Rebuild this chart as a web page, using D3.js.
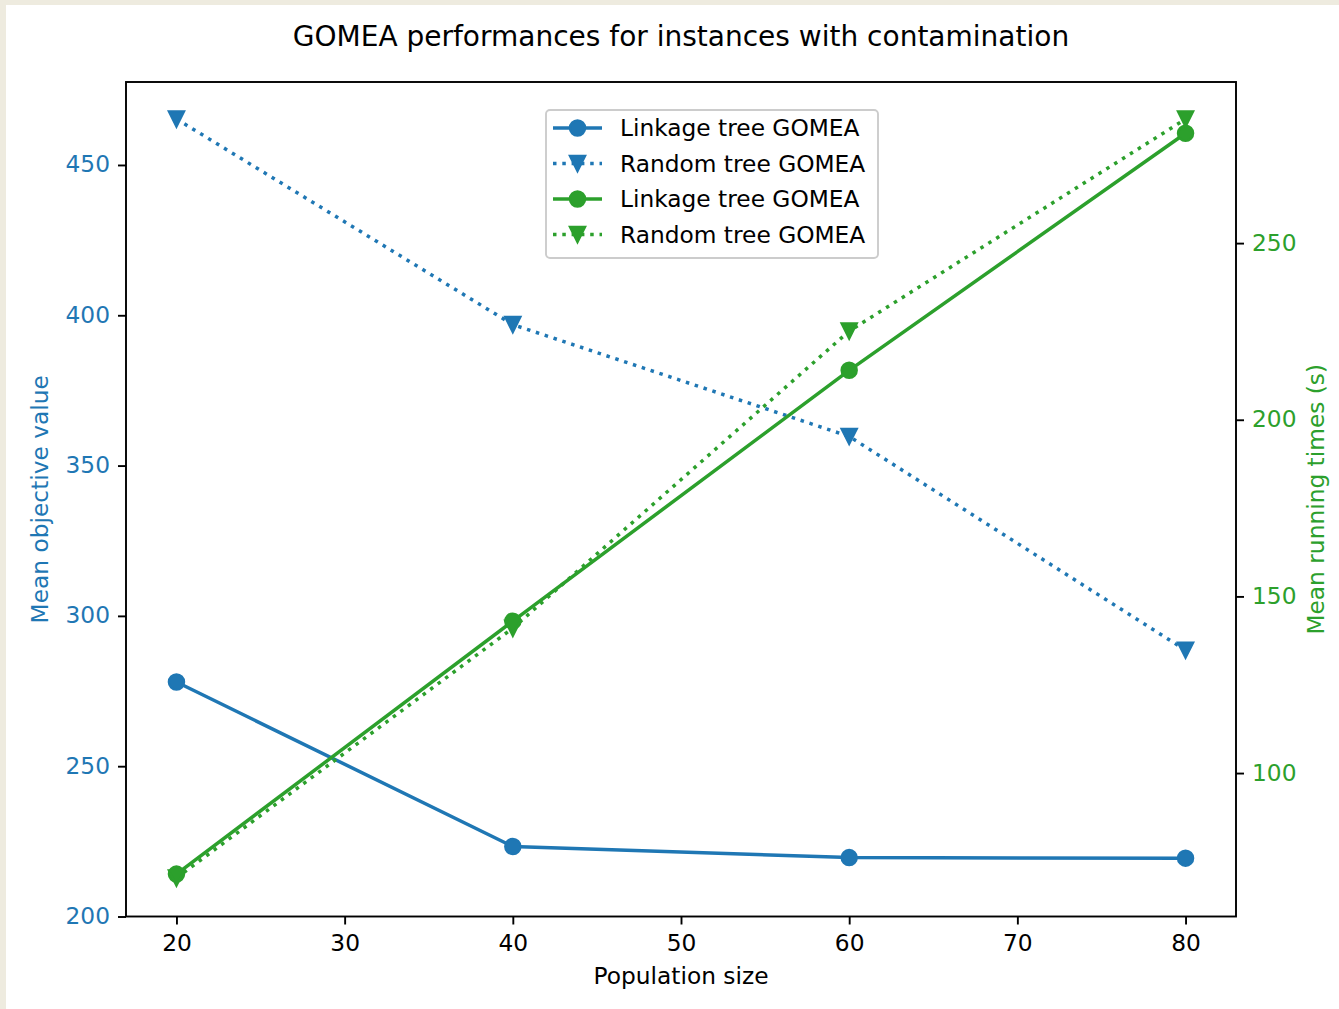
<!DOCTYPE html>
<html>
<head>
<meta charset="utf-8">
<script src="https://cdn.jsdelivr.net/npm/d3@7"></script>
<style>
  body { margin: 0; background: #fff; }
  text { font-family: "DejaVu Sans", sans-serif; }
</style>
</head>
<body>
<svg id="chart"></svg>
<script>
// data
var popSizes = [20, 40, 60, 80];
var linkageObjective = [278.0, 223.3, 219.6, 219.4];
var randomObjective = [465.3, 396.9, 359.7, 288.6];
var linkageTime = [71.4, 143.0, 214.0, 281.1];
var randomTime = [70.3, 141.0, 225.1, 285.1];
var xTicks = [20, 30, 40, 50, 60, 70, 80];
var leftTicks = [200, 250, 300, 350, 400, 450];
var rightTicks = [100, 150, 200, 250];
var legendLabels = ["Linkage tree GOMEA", "Random tree GOMEA", "Linkage tree GOMEA", "Random tree GOMEA"];

var blue = "#1f77b4", green = "#2ca02c";
var W = 1339, H = 1009;
// plot box edges
var box = {left: 126, right: 1236, top: 82, bottom: 916.5};

var svg = d3.select("#chart").attr("width", W).attr("height", H);

svg.append("rect").attr("width", W).attr("height", H).attr("fill", "#fff");
// beige page edge
svg.append("rect").attr("width", W).attr("height", 5).attr("fill", "#eeebdf");
svg.append("rect").attr("width", 6).attr("height", H).attr("fill", "#eeebdf");

var x = d3.scaleLinear().domain([17, 83]).range([box.left, box.right]);
var yL = d3.scaleLinear().domain([200, 477.6]).range([box.bottom, box.top]);
var yR = d3.scaleLinear().domain([59.4, 295.6]).range([box.bottom, box.top]);

var fs = 23.3;

// axes
var gx = svg.append("g").attr("transform", "translate(0," + box.bottom + ")")
    .call(d3.axisBottom(x).tickValues(xTicks).tickSize(8).tickPadding(10).tickFormat(d3.format("d")));
var gl = svg.append("g").attr("transform", "translate(" + box.left + ",0)")
    .call(d3.axisLeft(yL).tickValues(leftTicks).tickSize(8).tickPadding(8).tickFormat(d3.format("d")));
var gr = svg.append("g").attr("transform", "translate(" + box.right + ",0)")
    .call(d3.axisRight(yR).tickValues(rightTicks).tickSize(8).tickPadding(8).tickFormat(d3.format("d")));

[gx, gl, gr].forEach(function(g) {
  g.select(".domain").remove();
  g.selectAll(".tick line").attr("stroke", "#000").attr("stroke-width", 1.9);
  g.selectAll(".tick text").attr("font-size", fs).attr("font-family", "DejaVu Sans");
});
gx.selectAll(".tick text").attr("fill", "#000");
gl.selectAll(".tick text").attr("fill", blue).attr("dy", "0.30em");
gr.selectAll(".tick text").attr("fill", green).attr("dy", "0.30em");

// lines and markers
function series(vals, yScale, color, dotted, marker) {
  var pts = popSizes.map(function(p, i) { return [x(p), yScale(vals[i])]; });
  var line = svg.append("path")
    .attr("d", d3.line()(pts))
    .attr("fill", "none")
    .attr("stroke", color)
    .attr("stroke-width", 3.5);
  if (dotted) line.attr("stroke-dasharray", "3.5,5.8");
  pts.forEach(function(p) { drawMarker(svg, p[0], p[1], color, marker); });
}

function drawMarker(g, cx, cy, color, marker) {
  if (marker === "o") {
    g.append("circle").attr("cx", cx).attr("cy", cy).attr("r", 7.6)
      .attr("fill", color).attr("stroke", color).attr("stroke-width", 2.3);
  } else {
    var s = 7.6;
    g.append("path")
      .attr("d", "M" + (cx - s) + "," + (cy - s) + "L" + (cx + s) + "," + (cy - s) + "L" + cx + "," + (cy + s) + "Z")
      .attr("fill", color).attr("stroke", color).attr("stroke-width", 2.3).attr("stroke-linejoin", "miter");
  }
}

series(linkageObjective, yL, blue, false, "o");
series(randomObjective, yL, blue, true, "v");
series(linkageTime, yR, green, false, "o");
series(randomTime, yR, green, true, "v");

// frame
svg.append("rect").attr("x", box.left).attr("y", box.top)
  .attr("width", box.right - box.left).attr("height", box.bottom - box.top)
  .attr("fill", "none").attr("stroke", "#000").attr("stroke-width", 1.9);

// title and labels
svg.append("text").attr("x", (box.left + box.right) / 2).attr("y", 46)
  .attr("text-anchor", "middle").attr("font-size", 28).attr("fill", "#000")
  .text("GOMEA performances for instances with contamination");
svg.append("text").attr("x", (box.left + box.right) / 2).attr("y", 984)
  .attr("text-anchor", "middle").attr("font-size", fs).attr("fill", "#000")
  .text("Population size");
svg.append("text")
  .attr("transform", "translate(48," + (box.top + box.bottom) / 2 + ") rotate(-90)")
  .attr("text-anchor", "middle").attr("font-size", fs).attr("fill", blue)
  .text("Mean objective value");
svg.append("text")
  .attr("transform", "translate(1324," + (box.top + box.bottom) / 2 + ") rotate(-90)")
  .attr("text-anchor", "middle").attr("font-size", fs).attr("fill", green)
  .text("Mean running times (s)");

// legend
var legend = svg.append("g");
legend.append("rect").attr("x", 546).attr("y", 110).attr("width", 332).attr("height", 148)
  .attr("rx", 4).attr("fill", "#fff").attr("fill-opacity", 0.8)
  .attr("stroke", "#ccc").attr("stroke-width", 1.9);
var legendStyle = [[blue, false, "o"], [blue, true, "v"], [green, false, "o"], [green, true, "v"]];
legendLabels.forEach(function(lab, i) {
  var cy = 128 + i * 35.5;
  var st = legendStyle[i];
  var ln = legend.append("line").attr("x1", 553).attr("x2", 602).attr("y1", cy).attr("y2", cy)
    .attr("stroke", st[0]).attr("stroke-width", 3.5);
  if (st[1]) ln.attr("stroke-dasharray", "3.5,5.8");
  drawMarker(legend, 577.5, cy, st[0], st[2]);
  legend.append("text").attr("x", 620).attr("y", cy).attr("dy", "0.36em")
    .attr("font-size", fs).attr("fill", "#000").text(lab);
});
</script>
</body>
</html>
